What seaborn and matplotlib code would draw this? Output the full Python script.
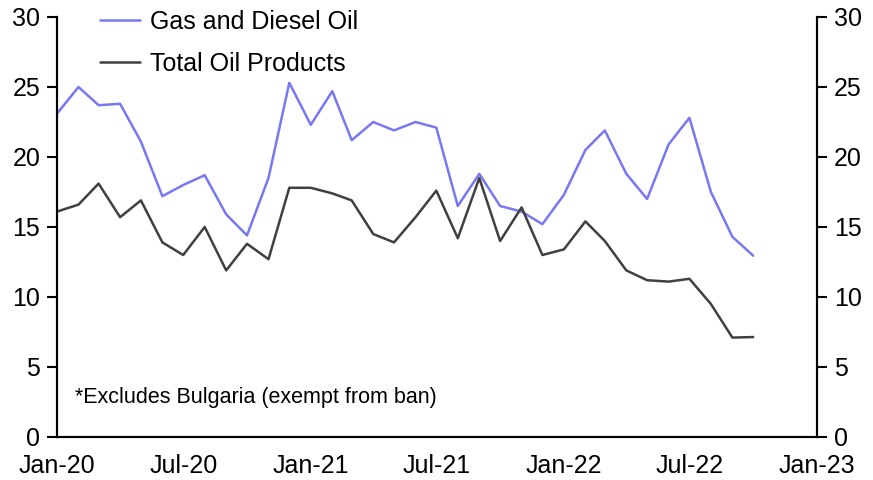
import pandas as pd
import numpy as np
import matplotlib.pyplot as plt
import matplotlib.dates as mdates
import seaborn as sns

# monthly values, Jan-20 .. Oct-22
months = pd.date_range('2020-01-01', periods=34, freq='MS')

gas_diesel = [23.1, 25.0, 23.7, 23.8, 21.1, 17.2, 18.0, 18.7, 15.9, 14.4,
              18.5, 25.3, 22.3, 24.7, 21.2, 22.5, 21.9, 22.5, 22.1, 16.5,
              18.8, 16.5, 16.1, 15.2, 17.3, 20.5, 21.9, 18.8, 17.0, 20.9,
              22.8, 17.5, 14.3, 12.95]

total_oil = [16.1, 16.6, 18.1, 15.7, 16.9, 13.9, 13.0, 15.0, 11.9, 13.8,
             12.7, 17.8, 17.8, 17.4, 16.9, 14.5, 13.9, 15.7, 17.6, 14.2,
             18.5, 14.0, 16.4, 13.0, 13.4, 15.4, 14.0, 11.9, 11.2, 11.1,
             11.3, 9.5, 7.1, 7.14]

series_names = ['Gas and Diesel Oil', 'Total Oil Products']
colors = ['#7878F2', '#404040']

df = pd.DataFrame({
    'month': list(months) * 2,
    'value': gas_diesel + total_oil,
    'series': [series_names[0]] * len(months) + [series_names[1]] * len(months),
})

sns.set_theme(style='white')
plt.rcParams['font.family'] = ['Liberation Sans', 'DejaVu Sans']
plt.rcParams['text.color'] = 'black'

fig, ax = plt.subplots(figsize=(8.73, 4.8), dpi=100)
fig.subplots_adjust(left=57 / 873, right=817 / 873, top=1 - 17 / 480, bottom=1 - 437 / 480)

sns.lineplot(data=df, x='month', y='value', hue='series', palette=colors,
             linewidth=1.8, ax=ax)

ax.set_xlim(pd.Timestamp('2020-01-01'), pd.Timestamp('2023-01-01'))
ax.set_ylim(0, 30)
ax.set_yticks(range(0, 31, 5))
ax.xaxis.set_major_locator(mdates.MonthLocator(bymonth=[1, 7]))
ax.xaxis.set_major_formatter(mdates.DateFormatter('%b-%y'))
ax.set_xlabel('')
ax.set_ylabel('')

ax2 = ax.twinx()
ax2.set_ylim(0, 30)
ax2.set_yticks(range(0, 31, 5))

for a in (ax, ax2):
    a.spines['top'].set_visible(False)
    for s in ('left', 'right', 'bottom'):
        a.spines[s].set_color('black')
        a.spines[s].set_linewidth(1.5)
    a.tick_params(axis='both', direction='out', length=7, width=1.5,
                  color='black', labelsize=18, labelcolor='black')
ax.tick_params(axis='x', pad=5)
ax.tick_params(axis='y', left=True, pad=5)
ax2.tick_params(axis='y', right=True, pad=5)

leg = ax.legend(loc='upper left', bbox_to_anchor=(100 / 873, 1 - 10 / 480),
                bbox_transform=fig.transFigure, frameon=False, fontsize=18,
                handlelength=1.6, handletextpad=0.4, labelspacing=0.72,
                borderpad=0, borderaxespad=0)
for t in leg.get_texts():
    t.set_color('black')

ax.text(75 / 873, 1 - 397 / 480, '*Excludes Bulgaria (exempt from ban)',
        transform=fig.transFigure, fontsize=15.5, va='center', ha='left',
        color='black')

fig.savefig('out.png', dpi=100)
